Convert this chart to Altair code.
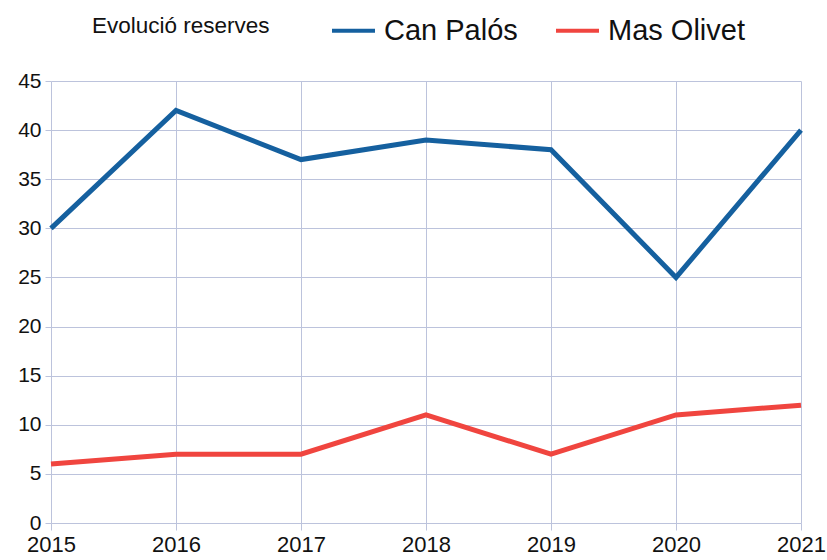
import altair as alt
import pandas as pd

years = ["2015", "2016", "2017", "2018", "2019", "2020", "2021"]
can_palos = [30, 42, 37, 39, 38, 25, 40]
mas_olivet = [6, 7, 7, 11, 7, 11, 12]
series_names = ["Can Palós", "Mas Olivet"]
series_colors = ["#15609f", "#f0453f"]

rows = []
for y, v in zip(years, can_palos):
    rows.append({"Any": y, "Valor": v, "Sèrie": series_names[0]})
for y, v in zip(years, mas_olivet):
    rows.append({"Any": y, "Valor": v, "Sèrie": series_names[1]})
df = pd.DataFrame(rows)

grid_color = "#bcc3dc"
font = "Liberation Sans"

chart = alt.Chart(df).mark_line(strokeWidth=5).encode(
    x=alt.X("Any:O", sort=years,
            scale=alt.Scale(type="point", padding=0),
            axis=alt.Axis(title=None, labelAngle=0, labelFontSize=22, labelColor="#111",
                          labelFont=font, grid=True, gridColor=grid_color,
                          domain=False, tickColor=grid_color, tickSize=7,
                          labelPadding=4)),
    y=alt.Y("Valor:Q", scale=alt.Scale(domain=[0, 45], nice=False),
            axis=alt.Axis(title=None, values=list(range(0, 50, 5)), labelFontSize=21,
                          labelColor="#111", labelFont=font, grid=True,
                          gridColor=grid_color, domain=False, tickColor=grid_color,
                          tickSize=6, labelPadding=4)),
    color=alt.Color("Sèrie:N", sort=series_names,
                    scale=alt.Scale(domain=series_names, range=series_colors),
                    legend=alt.Legend(orient="none", legendX=41, legendY=-74,
                                      direction="horizontal", title="Evolució reserves",
                                      titleOrient="left", titleFontSize=22.5,
                                      titleFontWeight="normal", titleFont=font,
                                      titleColor="#111", titlePadding=60,
                                      labelFontSize=29, labelFont=font, labelColor="#111",
                                      symbolType="stroke", symbolSize=1849,
                                      symbolStrokeWidth=4, labelOffset=7,
                                      columnPadding=30)),
).properties(
    width=750, height=442,
    autosize=alt.AutoSizeParams(type="none"),
    padding={"left": 51, "top": 81, "right": 26, "bottom": 37},
).configure_view(stroke=None)

chart.save("out.html", embed_options={"renderer": "svg", "actions": False})
